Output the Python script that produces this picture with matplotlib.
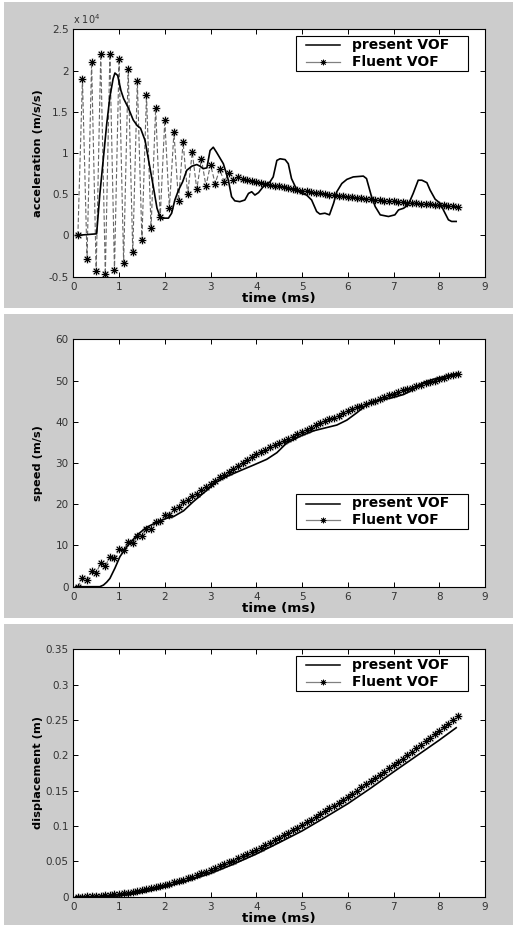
import matplotlib
matplotlib.use('Agg')
import matplotlib.pyplot as plt
from matplotlib.patches import Rectangle
from matplotlib.ticker import FuncFormatter

# Fluent VOF の時刻 (ms)
t_fluent = [0.1, 0.2, 0.3, 0.4, 0.5, 0.6, 0.7, 0.8, 0.9, 1.0,
            1.1, 1.2, 1.3, 1.4, 1.5, 1.6, 1.7, 1.8, 1.9, 2.0,
            2.1, 2.2, 2.3, 2.4, 2.5, 2.6, 2.7, 2.8, 2.9, 3.0,
            3.1, 3.2, 3.3, 3.4, 3.5, 3.6, 3.7, 3.8, 3.9, 4.0,
            4.1, 4.2, 4.3, 4.4, 4.5, 4.6, 4.7, 4.8, 4.9, 5.0,
            5.1, 5.2, 5.3, 5.4, 5.5, 5.6, 5.7, 5.8, 5.9, 6.0,
            6.1, 6.2, 6.3, 6.4, 6.5, 6.6, 6.7, 6.8, 6.9, 7.0,
            7.1, 7.2, 7.3, 7.4, 7.5, 7.6, 7.7, 7.8, 7.9, 8.0,
            8.1, 8.2, 8.3, 8.4]

# 加速度 (x 10^4 m/s/s)
acc_fluent = [0.0, 1.90, -0.28, 2.10, -0.43, 2.20, -0.47, 2.20, -0.42, 2.14,
              -0.33, 2.02, -0.20, 1.87, -0.05, 1.70, 0.09, 1.54, 0.22, 1.40,
              0.33, 1.25, 0.42, 1.13, 0.50, 1.01, 0.56, 0.93, 0.60, 0.86,
              0.63, 0.80, 0.65, 0.76, 0.67, 0.71, 0.69, 0.67, 0.66, 0.65,
              0.64, 0.63, 0.615, 0.605, 0.595, 0.585, 0.575, 0.565, 0.555, 0.545,
              0.535, 0.527, 0.519, 0.511, 0.503, 0.496, 0.489, 0.482, 0.475, 0.468,
              0.462, 0.456, 0.450, 0.444, 0.438, 0.432, 0.427, 0.422, 0.417, 0.412,
              0.407, 0.402, 0.397, 0.392, 0.388, 0.384, 0.380, 0.376, 0.372, 0.368,
              0.364, 0.360, 0.356, 0.350]
t_acc_present = [0.05, 0.51, 0.58, 0.66, 0.73, 0.80, 0.87, 0.91, 0.97, 1.04,
                 1.10, 1.20, 1.31, 1.40, 1.47, 1.57, 1.64, 1.75, 1.83, 1.90,
                 1.97, 2.08, 2.15, 2.22, 2.30, 2.39, 2.48, 2.59, 2.70, 2.77,
                 2.84, 2.92, 2.99, 3.06, 3.13, 3.28, 3.39, 3.46, 3.53, 3.64,
                 3.75, 3.83, 3.90, 3.97, 4.05, 4.15, 4.30, 4.37, 4.45, 4.52,
                 4.63, 4.70, 4.77, 4.88, 4.99, 5.10, 5.21, 5.32, 5.39, 5.50,
                 5.60, 5.69, 5.76, 5.87, 5.98, 6.12, 6.34, 6.41, 6.52, 6.60,
                 6.71, 6.89, 7.03, 7.11, 7.22, 7.32, 7.43, 7.54, 7.62, 7.73,
                 7.80, 7.91, 8.02, 8.09, 8.20, 8.27, 8.37]
acc_present = [0.0, 0.02, 0.50, 0.95, 1.35, 1.68, 1.90, 1.97, 1.94, 1.76,
               1.66, 1.55, 1.40, 1.33, 1.30, 1.15, 0.93, 0.59, 0.33, 0.22,
               0.21, 0.21, 0.27, 0.43, 0.55, 0.65, 0.79, 0.84, 0.86, 0.84,
               0.81, 0.82, 1.03, 1.07, 1.01, 0.87, 0.67, 0.47, 0.42, 0.41,
               0.43, 0.51, 0.53, 0.49, 0.52, 0.59, 0.65, 0.71, 0.91, 0.93,
               0.92, 0.87, 0.69, 0.56, 0.51, 0.49, 0.43, 0.29, 0.26, 0.27,
               0.25, 0.39, 0.53, 0.63, 0.68, 0.71, 0.72, 0.69, 0.47, 0.35,
               0.25, 0.23, 0.25, 0.31, 0.33, 0.37, 0.51, 0.67, 0.67, 0.64,
               0.55, 0.44, 0.39, 0.31, 0.19, 0.17, 0.17]

# 速度 (m/s)
speed_fluent = [0.0, 2.0, 1.6, 3.9, 3.4, 5.7, 5.0, 7.3, 6.9, 9.1,
                8.8, 10.9, 10.5, 12.3, 12.4, 14.0, 14.0, 15.6, 16.0, 17.3,
                17.5, 18.8, 19.4, 20.5, 21.0, 22.0, 22.6, 23.5, 24.1, 25.0,
                25.7, 26.5, 27.2, 27.9, 28.6, 29.3, 30.0, 30.7, 31.4, 32.1,
                32.7, 33.2, 33.8, 34.3, 34.8, 35.3, 35.8, 36.4, 37.0, 37.6,
                38.1, 38.6, 39.1, 39.6, 40.1, 40.6, 41.0, 41.5, 42.1, 42.7,
                43.1, 43.5, 43.9, 44.3, 44.7, 45.1, 45.5, 45.9, 46.4, 46.8,
                47.2, 47.6, 47.9, 48.3, 48.6, 49.0, 49.3, 49.7, 50.0, 50.4,
                50.7, 51.0, 51.4, 51.7]
t_speed_present = [0.05, 0.58, 0.66, 0.73, 0.80, 0.91, 1.02, 1.17, 1.39, 1.60,
                   1.82, 2.04, 2.19, 2.41, 2.62, 2.92, 3.13, 3.35, 3.64, 3.94,
                   4.23, 4.45, 4.66, 4.96, 5.25, 5.54, 5.76, 5.98, 6.20, 6.41,
                   6.63, 6.92, 7.22, 7.43, 7.65, 7.87, 8.16, 8.38]
speed_present = [0.0, 0.0, 0.4, 1.1, 2.0, 4.5, 7.3, 9.7, 12.5, 14.4,
                 15.6, 16.6, 17.0, 18.4, 20.6, 23.4, 25.4, 26.7, 28.1, 29.5,
                 30.9, 32.5, 34.8, 36.5, 37.8, 38.6, 39.2, 40.4, 42.2, 44.1,
                 45.1, 45.7, 46.6, 47.8, 49.5, 50.3, 51.1, 51.7]

# 変位 (m)
disp_fluent = [0.0000, 0.0001, 0.0003, 0.0006, 0.0009, 0.0014, 0.0019, 0.0025, 0.0032, 0.0040,
               0.0049, 0.0059, 0.0069, 0.0081, 0.0093, 0.0106, 0.0120, 0.0135, 0.0151, 0.0168,
               0.0185, 0.0203, 0.0222, 0.0242, 0.0263, 0.0284, 0.0307, 0.0330, 0.0354, 0.0378,
               0.0404, 0.0430, 0.0457, 0.0484, 0.0512, 0.0541, 0.0571, 0.0601, 0.0632, 0.0664,
               0.0696, 0.0729, 0.0763, 0.0797, 0.0832, 0.0867, 0.0903, 0.0939, 0.0976, 0.1014,
               0.1052, 0.1090, 0.1129, 0.1169, 0.1209, 0.1249, 0.1290, 0.1331, 0.1373, 0.1415,
               0.1458, 0.1501, 0.1545, 0.1589, 0.1633, 0.1678, 0.1723, 0.1769, 0.1815, 0.1861,
               0.1908, 0.1955, 0.2003, 0.2051, 0.2099, 0.2148, 0.2197, 0.2246, 0.2296, 0.2346,
               0.2396, 0.2447, 0.2498, 0.2550]
t_disp_present = [0.05, 0.5, 0.75, 1.0, 1.25, 1.5, 1.75, 2.0, 2.5, 3.0,
                  3.5, 4.0, 4.5, 5.0, 5.5, 6.0, 6.5, 7.0, 7.5, 8.0, 8.37]
disp_present = [0.0, 0.0, 0.0003, 0.0012, 0.0032, 0.0060, 0.0095, 0.0135, 0.0225, 0.0330,
                0.0460, 0.0605, 0.0765, 0.0930, 0.1120, 0.1315, 0.1535, 0.1765, 0.1990, 0.2215, 0.2390]

labels = ['present VOF', 'Fluent VOF']
x_ticks = [0, 1, 2, 3, 4, 5, 6, 7, 8, 9]
acc_ticks = [-0.5, 0, 0.5, 1, 1.5, 2, 2.5]
speed_ticks = [0, 10, 20, 30, 40, 50, 60]
disp_ticks = [0, 0.05, 0.1, 0.15, 0.2, 0.25, 0.3, 0.35]

plt.rcParams['font.family'] = ['DejaVu Sans']

W, H = 513, 925
fig = plt.figure(figsize=(W / 100, H / 100), dpi=100)
fig.patch.set_facecolor('white')

# 灰色の背景パネル
for y0, y1 in [(2, 308), (314, 618), (624, 925)]:
    fig.patches.append(Rectangle((4 / W, 1 - y1 / H), (W - 4) / W, (y1 - y0) / H,
                                 transform=fig.transFigure, facecolor='#cccccc',
                                 edgecolor='none', zorder=-5))

AX_L, AX_W, AX_H = 73.3, 411.7, 247.4
star = (8, 2, 0)
fmt = FuncFormatter(lambda v, p: f'{v:g}')


def legend_box(ax, top_px):
    # 凡例 (手描き)
    def fx(px):
        return (px - AX_L) / AX_W

    def fy(py):
        return 1 - py / AX_H
    ax.add_patch(Rectangle((fx(296), fy(top_px + 35)), fx(468) - fx(296), 35 / AX_H,
                           transform=ax.transAxes, facecolor='white', edgecolor='k',
                           lw=0.8, zorder=10, clip_on=False))
    r1, r2 = fy(top_px + 9.5), fy(top_px + 26)
    ax.plot([fx(306), fx(340)], [r1, r1], color='k', lw=1.1,
            transform=ax.transAxes, zorder=11, clip_on=False)
    ax.plot([fx(306), fx(340)], [r2, r2], color='0.5', lw=0.9,
            transform=ax.transAxes, zorder=11, clip_on=False)
    ax.plot([fx(323)], [r2], ls='none', marker=star, ms=4, mec='k', mew=0.6,
            transform=ax.transAxes, zorder=12, clip_on=False)
    ax.text(fx(352), r1, labels[0], transform=ax.transAxes, fontsize=10,
            fontweight='bold', va='center', ha='left', zorder=12)
    ax.text(fx(352), r2, labels[1], transform=ax.transAxes, fontsize=10,
            fontweight='bold', va='center', ha='left', zorder=12)


def draw(top_px, tp, yp, yf, yticks, ylabel, leg_top, dash):
    ax = fig.add_axes([AX_L / W, 1 - (top_px + AX_H) / H, AX_W / W, AX_H / H])
    ax.set_facecolor('white')
    ax.plot(t_fluent, yf, ls='none', marker=star, ms=6, mec='0.7', mew=1.0, zorder=2)
    ax.plot(t_fluent, yf, color='0.4', lw=0.8, dashes=dash, marker=star, ms=5,
            mec='k', mew=0.55, zorder=3)
    ax.plot(tp, yp, color='k', lw=1.2, zorder=4)
    ax.set_xlim(0, 9)
    ax.set_ylim(yticks[0], yticks[-1])
    ax.set_xticks(x_ticks)
    ax.set_yticks(yticks)
    ax.xaxis.set_major_formatter(fmt)
    ax.yaxis.set_major_formatter(fmt)
    ax.tick_params(direction='in', length=3.5, width=0.7, top=True, right=True,
                   labelsize=7.5, labelcolor='#333333', pad=3.5)
    for s in ax.spines.values():
        s.set_linewidth(0.8)
    ax.set_xlabel('time (ms)', fontsize=9.7, fontweight='bold')
    ax.xaxis.set_label_coords(0.5, -0.062)
    ax.set_ylabel(ylabel, fontsize=8.2, fontweight='bold')
    ax.yaxis.set_label_coords(-0.074, 0.5)
    legend_box(ax, leg_top)
    return ax


ax1 = draw(29.3, t_acc_present, acc_present, acc_fluent, acc_ticks,
           'acceleration (m/s/s)', 6.7, (4, 2))
ax1.text(0.0, 1.012, r'x 10$^{4}$', transform=ax1.transAxes, fontsize=7,
         ha='left', va='bottom', color='#333333')
draw(339.3, t_speed_present, speed_present, speed_fluent, speed_ticks,
     'speed (m/s)', 154.7, (4, 2))
draw(649.3, t_disp_present, disp_present, disp_fluent, disp_ticks,
     'displacement (m)', 6.7, (4, 2))

fig.savefig('out.png', dpi=100)
